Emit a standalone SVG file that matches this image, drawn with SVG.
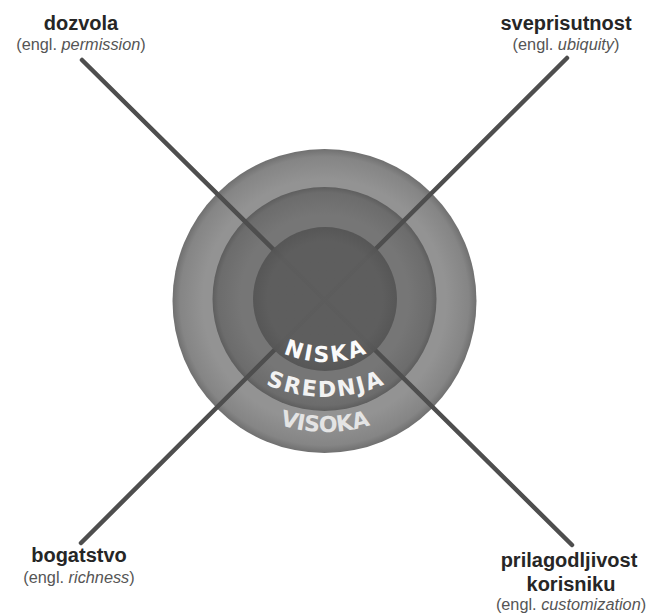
<svg xmlns="http://www.w3.org/2000/svg" width="651" height="615" viewBox="0 0 651 615">
<style>
.t{font-family:"Liberation Sans",Arial,sans-serif;font-weight:bold;font-size:20px;fill:#262626;text-anchor:middle}
.s{font-family:"Liberation Sans",Arial,sans-serif;font-size:16.3px;fill:#555;text-anchor:middle}
.s tspan{font-style:italic}
.r{font-family:"DejaVu Sans",sans-serif;font-weight:bold;font-size:22px;text-anchor:middle}
.ln{stroke:#4e4e4e;stroke-width:4.5;stroke-linecap:round;fill:none}
</style>
<defs>
<radialGradient id="gOut" cx="0.5" cy="0.5" r="0.5">
<stop offset="0.8" stop-color="#939393"/>
<stop offset="0.95" stop-color="#858585"/>
<stop offset="1" stop-color="#707070"/>
</radialGradient>
<radialGradient id="gMid" cx="0.5" cy="0.5" r="0.5">
<stop offset="0.75" stop-color="#767676"/>
<stop offset="0.95" stop-color="#6c6c6c"/>
<stop offset="1" stop-color="#5e5e5e"/>
</radialGradient>
<radialGradient id="gIn" cx="0.5" cy="0.5" r="0.5">
<stop offset="0.8" stop-color="#5d5d5d"/>
<stop offset="1" stop-color="#555555"/>
</radialGradient>
<path id="pN" d="M 235 308 A 102 102 0 0 0 415 308"/>
<path id="pS" d="M 205 334 A 146 146 0 0 0 445 334"/>
<path id="pV" d="M 215 383 A 148 148 0 0 0 435 383"/>
</defs>
<rect width="651" height="615" fill="#ffffff"/>
<g id="ring-visoka">
<circle cx="324.5" cy="301" r="152" fill="url(#gOut)"/>
</g>
<g id="ring-srednja">
<circle cx="324.5" cy="299" r="112" fill="url(#gMid)"/>
</g>
<g id="connectors">
<line class="ln" x1="82" y1="60" x2="572" y2="545"/>
<line class="ln" x1="567" y1="58" x2="81" y2="543"/>
</g>
<g id="ring-niska">
<circle cx="325" cy="299" r="72" fill="url(#gIn)" fill-opacity="0.96"/>
</g>
<g id="ring-labels">
<text class="r" fill="#fbfbfb"><textPath href="#pN" startOffset="50%" textLength="86" lengthAdjust="spacing">NISKA</textPath></text>
<text class="r" fill="#f2f2f2"><textPath href="#pS" startOffset="50%" textLength="122" lengthAdjust="spacing">SREDNJA</textPath></text>
<text class="r" fill="#e4e4e4"><textPath href="#pV" startOffset="50%" textLength="92" lengthAdjust="spacing">VISOKA</textPath></text>
</g>
<g id="dozvola">
<text class="t" x="81" y="30">dozvola</text>
<text class="s" x="81" y="50">(engl. <tspan>permission</tspan>)</text>
</g>
<g id="sveprisutnost">
<text class="t" x="566" y="30">sveprisutnost</text>
<text class="s" x="566" y="50">(engl. <tspan>ubiquity</tspan>)</text>
</g>
<g id="bogatstvo">
<text class="t" x="79" y="562">bogatstvo</text>
<text class="s" x="79" y="583">(engl. <tspan>richness</tspan>)</text>
</g>
<g id="prilagodljivost">
<text class="t" x="569" y="567">prilagodljivost</text>
<text class="t" x="571" y="591">korisniku</text>
<text class="s" x="571" y="610">(engl. <tspan>customization</tspan>)</text>
</g>
</svg>
